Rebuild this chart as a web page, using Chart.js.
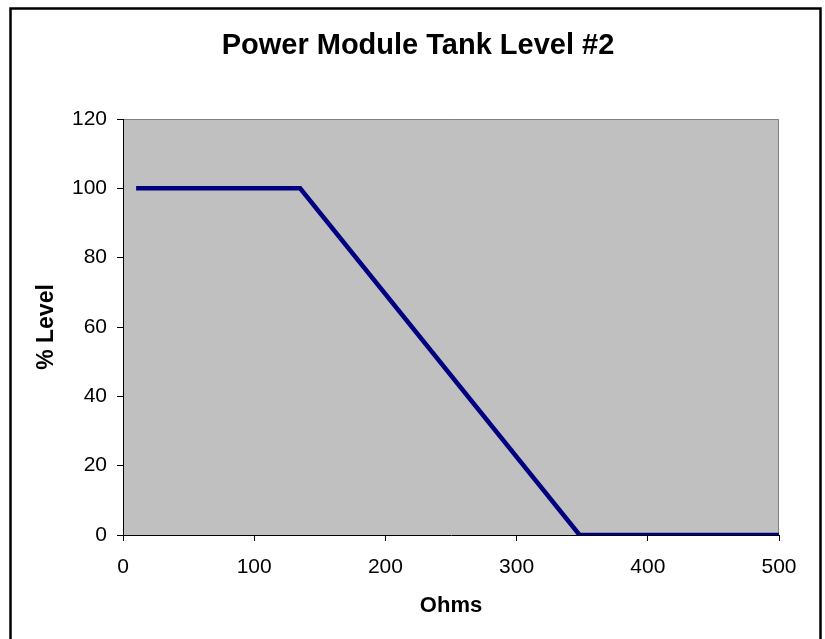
<!DOCTYPE html>
<html>
<head>
<meta charset="utf-8">
<script src="https://cdn.jsdelivr.net/npm/chart.js@4/dist/chart.umd.min.js"></script>
<style>
  html, body { margin: 0; padding: 0; background: #ffffff; }
  #wrap { width: 825px; height: 639px; position: relative; }
</style>
</head>
<body>
<div id="wrap"><canvas id="c" width="825" height="639"></canvas></div>
<script>
const chartTitle = "Power Module Tank Level #2";
const xAxisTitle = "Ohms";
const yAxisTitle = "% Level";
const ohms = [10, 135, 348, 500];
const level = [100, 100, 0, 0];
const xTicks = [0, 100, 200, 300, 400, 500];
const yTicks = [0, 20, 40, 60, 80, 100, 120];

const FONT = "'Liberation Sans', Arial, Helvetica, sans-serif";

const frame = {
  id: 'frame',
  beforeDraw(chart) {
    const ctx = chart.ctx;
    const a = chart.chartArea;
    ctx.save();
    ctx.fillStyle = '#ffffff';
    ctx.fillRect(0, 0, chart.width, chart.height);
    ctx.lineWidth = 2.5;
    ctx.strokeStyle = '#000000';
    ctx.strokeRect(10.5, 8.5, 810, 700);
    ctx.fillStyle = '#C0C0C0';
    ctx.fillRect(a.left, a.top, a.right - a.left, a.bottom - a.top);
    ctx.strokeStyle = '#808080';
    ctx.lineWidth = 1;
    ctx.beginPath();
    ctx.moveTo(a.left, a.top + 0.5);
    ctx.lineTo(a.right - 0.5, a.top + 0.5);
    ctx.lineTo(a.right - 0.5, a.bottom);
    ctx.stroke();
    ctx.restore();
  },
  afterDraw(chart) {
    const ctx = chart.ctx;
    ctx.save();
    ctx.fillStyle = '#000000';
    ctx.font = "bold 29px " + FONT;
    ctx.textAlign = 'center';
    ctx.textBaseline = 'alphabetic';
    ctx.fillText(chartTitle, 418, 54);
    ctx.restore();
  }
};

new Chart(document.getElementById('c'), {
  type: 'line',
  data: {
    datasets: [{
      data: ohms.map((x, i) => ({ x: x, y: level[i] })),
      borderColor: '#000080',
      borderWidth: 4.5,
      pointRadius: 0,
      tension: 0,
      fill: false
    }]
  },
  options: {
    responsive: false,
    animation: false,
    devicePixelRatio: 1,
    layout: { padding: { left: 0, right: 46, top: 119, bottom: 0 } },
    plugins: {
      legend: { display: false },
      tooltip: { enabled: false },
      title: { display: false }
    },
    scales: {
      x: {
        type: 'linear',
        min: 0, max: 500,
        afterBuildTicks(scale) { scale.ticks = xTicks.map(v => ({ value: v })); },
        afterFit(scale) { scale.height = 104; },
        border: { display: true, color: '#000000', width: 1 },
        grid: { drawOnChartArea: false, drawTicks: true, tickLength: 6, color: '#000000' },
        ticks: { color: '#000000', padding: 14, maxRotation: 0, font: { family: FONT, size: 21 } },
        title: {
          display: true, text: xAxisTitle, color: '#000000',
          font: { family: FONT, size: 22, weight: 'bold', lineHeight: 1.2 },
          padding: { top: 0, bottom: 20 }
        }
      },
      y: {
        type: 'linear',
        min: 0, max: 120,
        afterBuildTicks(scale) { scale.ticks = yTicks.map(v => ({ value: v })); },
        afterFit(scale) { scale.width = 123; },
        border: { display: true, color: '#000000', width: 1 },
        grid: { drawOnChartArea: false, drawTicks: true, tickLength: 6, color: '#000000' },
        ticks: { color: '#000000', padding: 10, font: { family: FONT, size: 21 } },
        title: {
          display: true, text: yAxisTitle, color: '#000000',
          font: { family: FONT, size: 23, weight: 'bold', lineHeight: 1.2 },
          padding: { top: 33, bottom: 0 }
        }
      }
    }
  },
  plugins: [frame]
});
</script>
</body>
</html>
